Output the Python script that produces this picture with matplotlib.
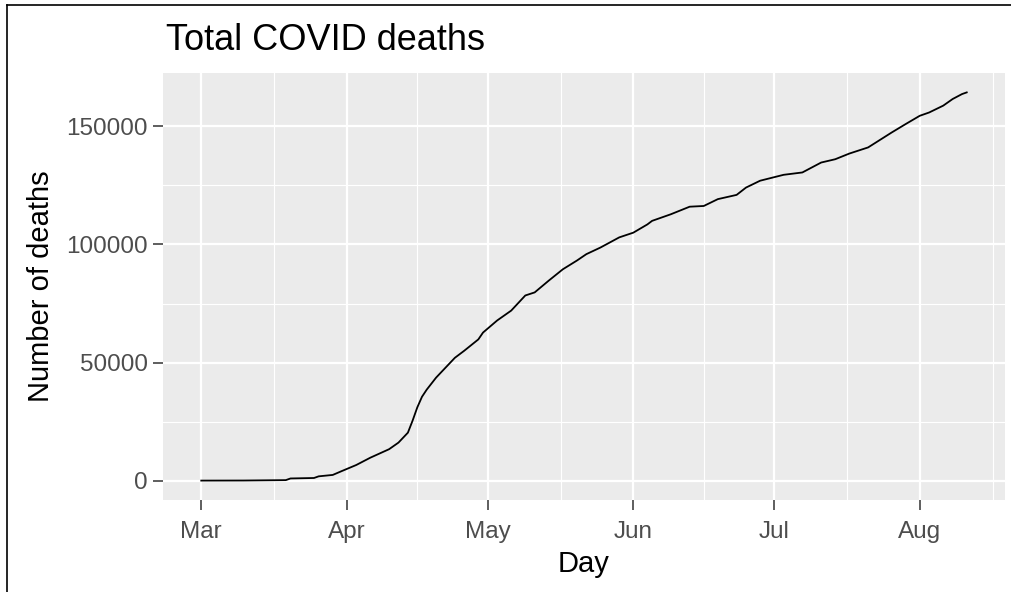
import matplotlib
matplotlib.use("Agg")
import matplotlib.pyplot as plt
import matplotlib.dates as mdates
from matplotlib.lines import Line2D
import pandas as pd

# ---- data ----
dates = ["2020-03-01", "2020-03-10", "2020-03-19", "2020-03-20", "2020-03-25",
         "2020-03-26", "2020-03-29", "2020-03-31", "2020-04-03", "2020-04-06",
         "2020-04-10", "2020-04-12", "2020-04-14", "2020-04-15", "2020-04-16",
         "2020-04-17", "2020-04-18", "2020-04-20", "2020-04-24", "2020-04-26",
         "2020-04-29", "2020-04-30", "2020-05-03", "2020-05-06", "2020-05-09",
         "2020-05-11", "2020-05-14", "2020-05-17", "2020-05-20", "2020-05-22",
         "2020-05-25", "2020-05-29", "2020-06-01", "2020-06-04", "2020-06-05",
         "2020-06-09", "2020-06-13", "2020-06-16", "2020-06-19", "2020-06-23",
         "2020-06-25", "2020-06-28", "2020-07-03", "2020-07-07", "2020-07-11",
         "2020-07-14", "2020-07-17", "2020-07-21", "2020-07-26", "2020-07-29",
         "2020-08-01", "2020-08-03", "2020-08-06", "2020-08-08", "2020-08-10",
         "2020-08-11"]
deaths = [0, 30, 200, 900, 1100,
          1800, 2400, 4100, 6600, 9700,
          13300, 16100, 20300, 25400, 31000,
          35500, 38500, 43600, 52000, 55000,
          59800, 62700, 67800, 72000, 78400,
          79700, 84700, 89500, 93200, 95900,
          98700, 103000, 105000, 108500, 110000,
          112800, 116000, 116300, 119200, 121000,
          124100, 127000, 129500, 130500, 134700,
          136100, 138500, 141100, 147400, 151000,
          154500, 155900, 158800, 161600, 163700,
          164400]
month_ticks = ["2020-03-01", "2020-04-01", "2020-05-01", "2020-06-01",
               "2020-07-01", "2020-08-01"]
month_labels = ["Mar", "Apr", "May", "Jun", "Jul", "Aug"]
y_ticks = [0, 50000, 100000, 150000]
y_labels = ["0", "50000", "100000", "150000"]

title = "Total COVID deaths"
xlabel = "Day"
ylabel = "Number of deaths"

# ---- figure ----
plt.rcParams['font.family'] = ['Liberation Sans', 'DejaVu Sans']
fig = plt.figure(figsize=(10.11, 5.92), dpi=100)
fig.patch.set_facecolor("white")
ax = fig.add_axes([163 / 1011, 1 - 500 / 592, (1005 - 163) / 1011, (500 - 73) / 592])
ax.set_facecolor("#EBEBEB")

x = pd.to_datetime(dates)
xn = mdates.date2num(x)
ax.plot(xn, deaths, color="black", lw=1.3, drawstyle="default", zorder=3)

# ggplot-like expansion (5%)
x0, x1 = xn.min(), xn.max()
dx = (x1 - x0) * 0.05
ax.set_xlim(x0 - dx, x1 + dx)
ymax = max(deaths)
ymin = min(deaths)
dy = (ymax - ymin) * 0.05
ax.set_ylim(ymin - dy, ymax + dy)

xt = mdates.date2num(pd.to_datetime(month_ticks))
ax.set_xticks(xt)
ax.set_xticklabels(month_labels)
xminor = [(xt[i] + xt[i + 1]) / 2 for i in range(len(xt) - 1)]
xminor.append(xt[-1] + (xt[-1] - xt[-2]) / 2)
ax.set_xticks(xminor, minor=True)

ax.set_yticks(y_ticks)
ax.set_yticklabels(y_labels)
ax.set_yticks([(y_ticks[i] + y_ticks[i + 1]) / 2 for i in range(len(y_ticks) - 1)], minor=True)

ax.grid(which="major", color="white", lw=1.6, zorder=0)
ax.grid(which="minor", color="white", lw=0.8, zorder=0)
ax.set_axisbelow(True)
for s in ax.spines.values():
    s.set_visible(False)

ax.tick_params(which="major", length=7, width=1.1, color="#333333",
               labelcolor="#4D4D4D", labelsize=17.5, pad=4)
ax.tick_params(axis="x", which="major", pad=8)
ax.tick_params(which="minor", length=0)

ax.set_xlabel(xlabel, fontsize=21, color="black", labelpad=5)
ax.set_ylabel(ylabel, fontsize=21, color="black", labelpad=8)

fig.text(166 / 1011, 1 - 40 / 592, title, fontsize=26, color="black",
         ha="left", va="center")

# screenshot frame lines
fig.add_artist(Line2D([7 / 1011, 1.0], [1 - 5 / 592, 1 - 5 / 592],
                      transform=fig.transFigure, color="black", lw=1.2))
fig.add_artist(Line2D([7 / 1011, 7 / 1011], [0.0, 1 - 5 / 592],
                      transform=fig.transFigure, color="black", lw=1.2))

fig.savefig("out.png", dpi=100, facecolor="white")
